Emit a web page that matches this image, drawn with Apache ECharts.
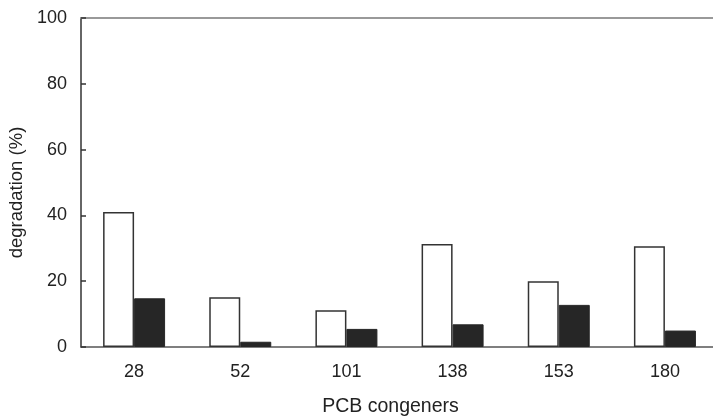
<!DOCTYPE html>
<html>
<head>
<meta charset="utf-8">
<script src="https://cdn.jsdelivr.net/npm/echarts@6/dist/echarts.min.js"></script>
<style>
  html, body { margin: 0; padding: 0; background: #fff; }
  #chart { width: 713px; height: 419px; }
</style>
</head>
<body>
<div id="chart"></div>
<script>
// PCB congeners on the category axis
const congeners = ['28', '52', '101', '138', '153', '180'];
// Degradation (%) for the two treatments
const degradationOpen = [41.0, 15.1, 11.2, 31.3, 20.0, 30.6];
const degradationFilled = [14.8, 1.6, 5.5, 6.9, 12.8, 5.0];
// Value axis ticks
const yTicks = [0, 20, 40, 60, 80, 100];

const font = 'Arial, "Liberation Sans", Helvetica, sans-serif';
const chart = echarts.init(document.getElementById('chart'), null, { renderer: 'canvas' });

chart.setOption({
  animation: false,
  backgroundColor: '#ffffff',
  grid: {
    left: 81, top: 18, width: 637, bottom: 72,
    containLabel: false,
    outerBoundsMode: 'none'
  },
  xAxis: [
    {
      type: 'category',
      data: congeners,
      position: 'bottom',
      axisLine: { show: true, lineStyle: { color: '#555', width: 1.5 } },
      axisTick: { show: false },
      axisLabel: { color: '#222', fontSize: 18, fontFamily: font, margin: 16 },
      name: 'PCB congeners',
      nameLocation: 'middle',
      nameGap: 50,
      nameTextStyle: { color: '#222', fontSize: 19.5, fontFamily: font, padding: [0, 18, 0, 0] }
    },
    {
      type: 'category',
      data: congeners,
      position: 'top',
      axisLine: { show: true, lineStyle: { color: '#999', width: 2 } },
      axisTick: { show: false },
      axisLabel: { show: false }
    }
  ],
  yAxis: {
    type: 'value',
    min: yTicks[0],
    max: yTicks[yTicks.length - 1],
    interval: 20,
    axisLine: { show: true, lineStyle: { color: '#333', width: 1.5 } },
    axisTick: { show: true, inside: true, length: 5, lineStyle: { color: '#333', width: 1.5 } },
    splitLine: { show: false },
    axisLabel: { color: '#222', fontSize: 18, fontFamily: font, margin: 14 },
    name: 'degradation (%)',
    nameLocation: 'middle',
    nameGap: 51,
    nameTextStyle: { color: '#222', fontSize: 18.5, fontFamily: font, padding: [0, 20, 0, 0] }
  },
  series: [
    {
      type: 'bar',
      data: degradationOpen,
      barWidth: 31,
      barGap: '0%',
      itemStyle: { color: '#ffffff', borderColor: '#333', borderWidth: 1.5 }
    },
    {
      type: 'bar',
      data: degradationFilled,
      barWidth: 31,
      barGap: '0%',
      itemStyle: { color: '#262626', borderColor: '#262626', borderWidth: 1 }
    }
  ]
});
</script>
</body>
</html>
